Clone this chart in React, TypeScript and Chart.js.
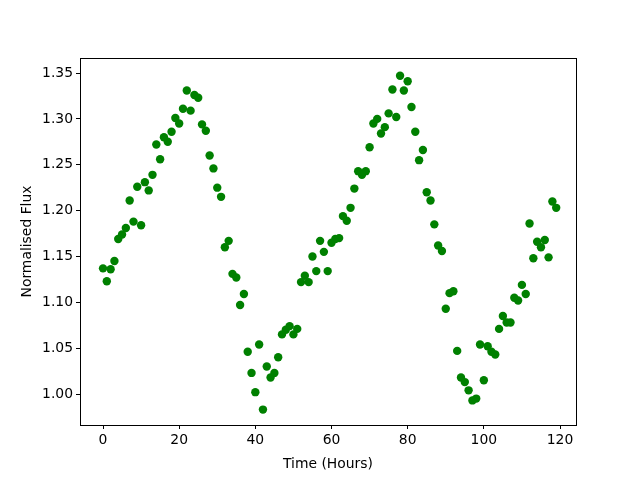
import React, { useEffect, useRef } from "react";
import { Chart, registerables } from "chart.js";

Chart.register(...registerables);

const hours: number[] = Array.from({ length: 120 }, (_, i) => i);
const flux: number[] = [
  1.137, 1.123, 1.136, 1.145, 1.169, 1.174, 1.181, 1.211, 1.188, 1.226,
  1.184, 1.231, 1.222, 1.239, 1.272, 1.256, 1.280, 1.275, 1.286, 1.301,
  1.295, 1.311, 1.331, 1.309, 1.326, 1.323, 1.294, 1.287, 1.260, 1.246,
  1.225, 1.215, 1.160, 1.167, 1.131, 1.127, 1.097, 1.109, 1.046, 1.023,
  1.002, 1.054, 0.983, 1.030, 1.018, 1.023, 1.040, 1.065, 1.070, 1.074,
  1.065, 1.071, 1.122, 1.129, 1.122, 1.150, 1.134, 1.167, 1.155, 1.134,
  1.165, 1.169, 1.170, 1.194, 1.189, 1.203, 1.224, 1.243, 1.239, 1.243,
  1.269, 1.295, 1.300, 1.284, 1.291, 1.306, 1.332, 1.302, 1.347, 1.331,
  1.341, 1.313, 1.286, 1.255, 1.266, 1.220, 1.211, 1.185, 1.162, 1.156,
  1.093, 1.110, 1.112, 1.047, 1.018, 1.013, 1.004, 0.993, 0.995, 1.054,
  1.015, 1.052, 1.046, 1.043, 1.071, 1.085, 1.078, 1.078, 1.105, 1.102,
  1.119, 1.109, 1.186, 1.148, 1.166, 1.160, 1.168, 1.149, 1.210, 1.203,
];
const xTicks: number[] = [0, 20, 40, 60, 80, 100, 120];
const yTicks: number[] = [1.0, 1.05, 1.1, 1.15, 1.2, 1.25, 1.3, 1.35];

const FONT = "DejaVu Sans";

export default function App() {
  const ref = useRef<HTMLCanvasElement | null>(null);
  useEffect(() => {
    document.body.style.margin = "0";
    const canvas = ref.current;
    if (!canvas) return;
    const frame = {
      id: "frame",
      afterDatasetsDraw(chart: any) {
        const { ctx, chartArea } = chart;
        ctx.save();
        ctx.strokeStyle = "#000";
        ctx.lineWidth = 1;
        ctx.strokeRect(
          Math.round(chartArea.left) + 0.5,
          Math.round(chartArea.top) + 0.5,
          Math.round(chartArea.right - chartArea.left),
          Math.round(chartArea.bottom - chartArea.top)
        );
        ctx.restore();
      },
    };
    const chart = new Chart(canvas, {
      type: "scatter",
      data: {
        datasets: [
          {
            data: hours.map((h, i) => ({ x: h, y: flux[i] })),
            backgroundColor: "#008000",
            borderColor: "#008000",
            pointRadius: 4.2,
            pointHoverRadius: 4.2,
            borderWidth: 0,
          },
        ],
      },
      options: {
        responsive: false,
        animation: false,
        events: [],
        layout: { padding: { left: 15, top: 58, right: 64, bottom: 3 } },
        plugins: { legend: { display: false }, tooltip: { enabled: false } },
        scales: {
          x: {
            type: "linear",
            min: -6.04,
            max: 124.2,
            afterBuildTicks: (s: any) => {
              s.ticks = xTicks.map((v) => ({ value: v }));
            },
            afterFit: (s: any) => {
              s.height = 52;
            },
            grid: {
              drawOnChartArea: false,
              drawTicks: true,
              tickLength: 4,
              tickColor: "#000",
              tickWidth: 1,
            },
            border: { display: false },
            ticks: {
              color: "#000",
              font: { family: FONT, size: 13.9 },
              padding: 3,
              maxRotation: 0,
              callback: (v: any) => String(v),
            },
            title: {
              display: true,
              text: "Time (Hours)",
              color: "#000",
              font: { family: FONT, size: 13.9 },
              padding: { top: 4, bottom: 4 },
            },
          },
          y: {
            type: "linear",
            min: 0.9662,
            max: 1.3664,
            afterBuildTicks: (s: any) => {
              s.ticks = yTicks.map((v) => ({ value: v }));
            },
            afterFit: (s: any) => {
              s.width = 65;
            },
            grid: {
              drawOnChartArea: false,
              drawTicks: true,
              tickLength: 4,
              tickColor: "#000",
              tickWidth: 1,
            },
            border: { display: false },
            ticks: {
              color: "#000",
              font: { family: FONT, size: 13.9 },
              padding: 3,
              callback: (v: any) => Number(v).toFixed(2),
            },
            title: {
              display: true,
              text: "Normalised Flux",
              color: "#000",
              font: { family: FONT, size: 13.9 },
              padding: { top: 4, bottom: 4 },
            },
          },
        },
      },
      plugins: [frame],
    });
    return () => chart.destroy();
  }, []);
  return (
    <div style={{ position: "fixed", left: 0, top: 0, width: 640, height: 480, background: "#fff" }}>
      <canvas ref={ref} width={640} height={480} />
    </div>
  );
}
